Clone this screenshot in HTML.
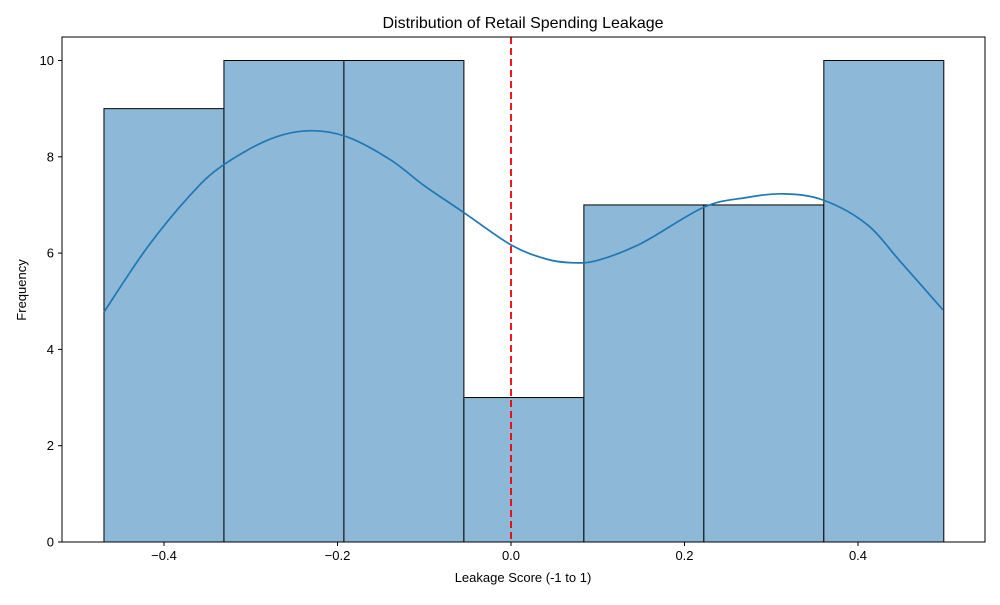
<!DOCTYPE html>
<html><head><meta charset="utf-8"><style>
body{margin:0;background:#fff;}
svg text{font-family:"Liberation Sans","DejaVu Sans",sans-serif;fill:#000;}
</style></head><body>
<svg id="chart" width="1000" height="600" viewBox="0 0 1000 600" xmlns="http://www.w3.org/2000/svg">
<text x="523" y="28" font-size="16" text-anchor="middle">Distribution of Retail Spending Leakage</text>
<text x="523" y="582" font-size="13" text-anchor="middle">Leakage Score (-1 to 1)</text>
<text x="26" y="290" font-size="13" text-anchor="middle" transform="rotate(-90 26 290)">Frequency</text>
<g id="bars"></g><g id="kde"></g><g id="xt"></g><g id="yt"></g>
<rect x="62" y="37" width="923" height="505" fill="none" stroke="#000" stroke-width="1"/>
</svg>
<script>
const binEdges=[-0.4692,-0.3309,-0.1926,-0.0543,0.0840,0.2223,0.3606,0.4989];
const counts=[9,10,10,3,7,7,10];
const kdeX=[-0.469,-0.42,-0.37,-0.334,-0.28,-0.235,-0.19,-0.14,-0.1,-0.055,0,0.04,0.07,0.1,0.15,0.222,0.27,0.315,0.36,0.41,0.45,0.498];
const kdeY=[4.78,6.1,7.2,7.8,8.35,8.54,8.42,7.95,7.4,6.85,6.17,5.88,5.8,5.85,6.2,6.95,7.15,7.23,7.1,6.6,5.8,4.82];
const xTicks=[-0.4,-0.2,0.0,0.2,0.4];
const xTickLabels=["\u22120.4","\u22120.2","0.0","0.2","0.4"];
const yTicks=[0,2,4,6,8,10];
const refLine=0;
const NS="http://www.w3.org/2000/svg";
const X=v=>511+v*867.5, Y=v=>542-v*48.15;
function mk(t,a,p){const e=document.createElementNS(NS,t);for(const k in a)e.setAttribute(k,a[k]);p.appendChild(e);return e;}
const bars=document.getElementById('bars');
counts.forEach((c,i)=>{const x0=X(binEdges[i]),x1=X(binEdges[i+1]);
const r=mk('rect',{x:x0,y:Y(c),width:x1-x0,height:Y(0)-Y(c),fill:'#8db8d8',stroke:'#000','stroke-width':1},bars);

});
const kg=document.getElementById('kde');
const pts=kdeX.map((x,i)=>[X(x),Y(kdeY[i])]);
let d='M'+pts[0][0]+' '+pts[0][1];
for(let i=0;i<pts.length-1;i++){const p0=pts[Math.max(0,i-1)],p1=pts[i],p2=pts[i+1],p3=pts[Math.min(pts.length-1,i+2)];
const c1=[p1[0]+(p2[0]-p0[0])/6,p1[1]+(p2[1]-p0[1])/6],c2=[p2[0]-(p3[0]-p1[0])/6,p2[1]-(p3[1]-p1[1])/6];
d+=' C'+c1[0]+' '+c1[1]+' '+c2[0]+' '+c2[1]+' '+p2[0]+' '+p2[1];}
const kp=mk('path',{d:d,fill:'none',stroke:'#1f77b4','stroke-width':1.7,'stroke-linejoin':'round'},kg);


const rl=mk('line',{x1:X(refLine),x2:X(refLine),y1:37,y2:542,stroke:'#e00','stroke-width':1.8,'stroke-dasharray':'7,4'},kg);


const xt=document.getElementById('xt');
xTicks.forEach((v,i)=>{mk('line',{x1:X(v),x2:X(v),y1:542,y2:546,stroke:'#000'},xt);
const t=mk('text',{x:X(v),y:560,'font-size':13,'text-anchor':'middle'},xt);t.textContent=xTickLabels[i];

});
const yt=document.getElementById('yt');
yTicks.forEach(v=>{mk('line',{x1:58,x2:62,y1:Y(v),y2:Y(v),stroke:'#000'},yt);
const t=mk('text',{x:54,y:Y(v)+4.5,'font-size':13,'text-anchor':'end'},yt);t.textContent=v;

});
</script>
</body></html>
